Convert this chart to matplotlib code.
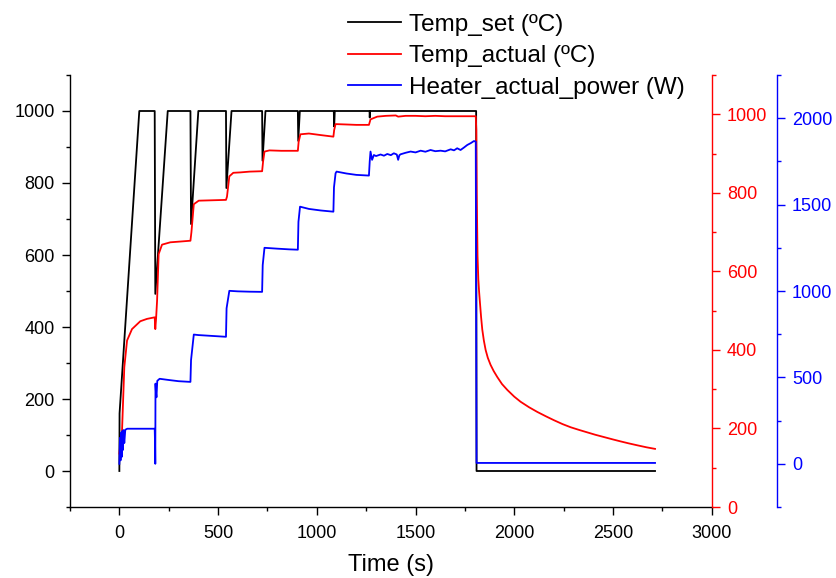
import matplotlib
matplotlib.use("Agg")
import matplotlib.pyplot as plt
from matplotlib.ticker import MultipleLocator
from matplotlib.lines import Line2D

plt.rcParams['font.family'] = ['Liberation Sans', 'DejaVu Sans']

# ---- data ----
set_t = [0, 1, 101, 179, 182, 245, 360, 363, 400, 540, 542, 568, 723, 725, 740,
         904, 906, 914, 1086, 1088, 1091, 1267, 1268, 1270, 1807, 1809, 2713]
set_v = [0, 160, 1000, 1000, 492, 1000, 1000, 686, 1000, 1000, 786, 1000, 1000, 862, 1000,
         1000, 917, 1000, 1000, 957, 1000, 1000, 982, 1000, 1000, 0, 0]

act_t = [0, 5, 13, 25, 39, 64, 106, 140, 179, 182, 186, 191, 199, 216, 258, 310, 360,
         365, 377, 402, 470, 540, 545, 557, 577, 613, 660, 723, 728, 735, 760, 820, 904,
         908, 917, 960, 1020, 1084, 1088, 1095, 1150, 1200, 1264, 1272, 1306, 1350, 1400,
         1412, 1450, 1500, 1550, 1600, 1650, 1700, 1750, 1805, 1808, 1810, 1814, 1818,
         1822, 1826, 1832, 1838, 1846, 1855, 1866, 1880, 1896, 1914, 1938, 1965, 2000,
         2032, 2075, 2117, 2160, 2201, 2245, 2286, 2330, 2370, 2410, 2455, 2500, 2539,
         2580, 2624, 2670, 2713]
act_v = [136, 160, 187, 356, 424, 453, 473, 479, 483, 453, 480, 525, 644, 668, 674, 676, 678,
         700, 771, 780, 781, 782, 790, 842, 851, 852, 854, 855, 880, 905, 908, 907, 907,
         930, 949, 951, 947, 943, 960, 975, 974, 973, 973, 987, 994, 996, 997,
         994, 996, 996, 995, 996, 995, 995, 995, 995, 960, 800, 640, 580,
         548, 522, 484, 452, 424, 400, 380, 362, 346, 331, 313, 298, 281,
         268, 254, 242, 231, 221, 211, 203, 196, 190, 184, 178, 172, 167,
         162, 157, 152, 148]

pow_t = [0, 3, 6, 9, 12, 15, 18, 21, 25, 30, 40, 100, 179, 181, 182, 183, 185, 188, 192,
         204, 250, 300, 360, 363, 377, 400, 470, 540, 543, 557, 600, 660, 723, 726, 735,
         800, 860, 904, 907, 915, 960, 1020, 1084, 1087, 1095, 1100, 1150, 1200, 1264,
         1268, 1272, 1280, 1289, 1300, 1323, 1340, 1357, 1375, 1390, 1405, 1412, 1418,
         1424, 1450, 1475, 1500, 1526, 1550, 1576, 1600, 1627, 1650, 1678, 1695, 1711,
         1728, 1745, 1762, 1780, 1796, 1805, 1809, 1812, 2713]
pow_v = [0, 150, 20, 180, 40, 190, 80, 195, 120, 197, 203, 203, 203, 100, 0, 464, 420, 385, 480,
         492, 485, 478, 474, 600, 748, 745, 740, 735, 900, 1001, 998, 996, 995, 1150, 1250,
         1245, 1241, 1239, 1400, 1488, 1475, 1466, 1459, 1600, 1681, 1691, 1680, 1672, 1668,
         1750, 1807, 1759, 1787, 1781, 1790, 1783, 1793, 1786, 1797, 1790, 1759, 1785,
         1791, 1800, 1807, 1802, 1812, 1806, 1816, 1809, 1812, 1808, 1820, 1814, 1826,
         1816, 1830, 1845, 1856, 1868, 1864, 5, 5, 5]

labels = ["Temp_set (ºC)", "Temp_actual (ºC)", "Heater_actual_power (W)"]
colors = ["#000000", "#ff0000", "#0000ff"]

W, H = 837, 578
fig = plt.figure(figsize=(W / 100, H / 100), dpi=100)
L, R, B, T = 70, 711.7, 507, 75
ax = fig.add_axes([L / W, 1 - B / H, (R - L) / W, (B - T) / H])
ax2 = ax.twinx()
ax3 = ax.twinx()

lw = 1.3
ax.plot(set_t, set_v, color=colors[0], lw=lw)
ax2.plot(act_t, act_v, color=colors[1], lw=lw)
ax3.plot(pow_t, pow_v, color=colors[2], lw=lw)

ax.set_xlim(-250, 3000)
ax.set_ylim(-100, 1100)
ax2.set_ylim(0, 1100)
ax3.set_ylim(-250, 2250)

ax.xaxis.set_major_locator(MultipleLocator(500))
ax.xaxis.set_minor_locator(MultipleLocator(250))
ax.yaxis.set_major_locator(MultipleLocator(200))
ax.yaxis.set_minor_locator(MultipleLocator(100))
ax2.yaxis.set_major_locator(MultipleLocator(200))
ax2.yaxis.set_minor_locator(MultipleLocator(100))
ax3.yaxis.set_major_locator(MultipleLocator(500))
ax3.yaxis.set_minor_locator(MultipleLocator(250))

for a in (ax, ax2, ax3):
    for s in a.spines.values():
        s.set_visible(False)
        s.set_linewidth(1.0)
ax.spines['left'].set_visible(True)
ax.spines['bottom'].set_visible(True)
ax2.spines['right'].set_visible(True)
ax2.spines['right'].set_color(colors[1])
ax3.spines['right'].set_visible(True)
ax3.spines['right'].set_color(colors[2])
ax3.spines['right'].set_position(('axes', (776.7 - L) / (R - L)))

fs = 13
ax.tick_params(axis='y', which='major', direction='out', length=6, width=1, labelsize=fs, pad=5)
ax.tick_params(axis='x', which='major', direction='out', length=6, width=1, labelsize=fs, pad=7)
ax.tick_params(which='minor', direction='out', length=3, width=1)
ax2.tick_params(which='major', direction='out', length=6, width=1, labelsize=fs, pad=5,
                colors=colors[1])
ax2.tick_params(which='minor', direction='out', length=3, width=1, colors=colors[1])
ax3.tick_params(which='major', direction='out', length=6, width=1, labelsize=fs, pad=5,
                colors=colors[2])
ax3.tick_params(which='minor', direction='out', length=3, width=1, colors=colors[2])

ax.set_xlabel("Time (s)", fontsize=17, labelpad=8.5)

handles = [Line2D([], [], color=c, lw=lw) for c in colors]
fig.legend(handles, labels, loc='upper left', bbox_to_anchor=(348 / W, 1 - 13.5 / H),
           frameon=False, fontsize=17.5, handlelength=2.2, handletextpad=0.33,
           labelspacing=0.4, borderpad=0, borderaxespad=0)

fig.savefig("out.png", dpi=100)
